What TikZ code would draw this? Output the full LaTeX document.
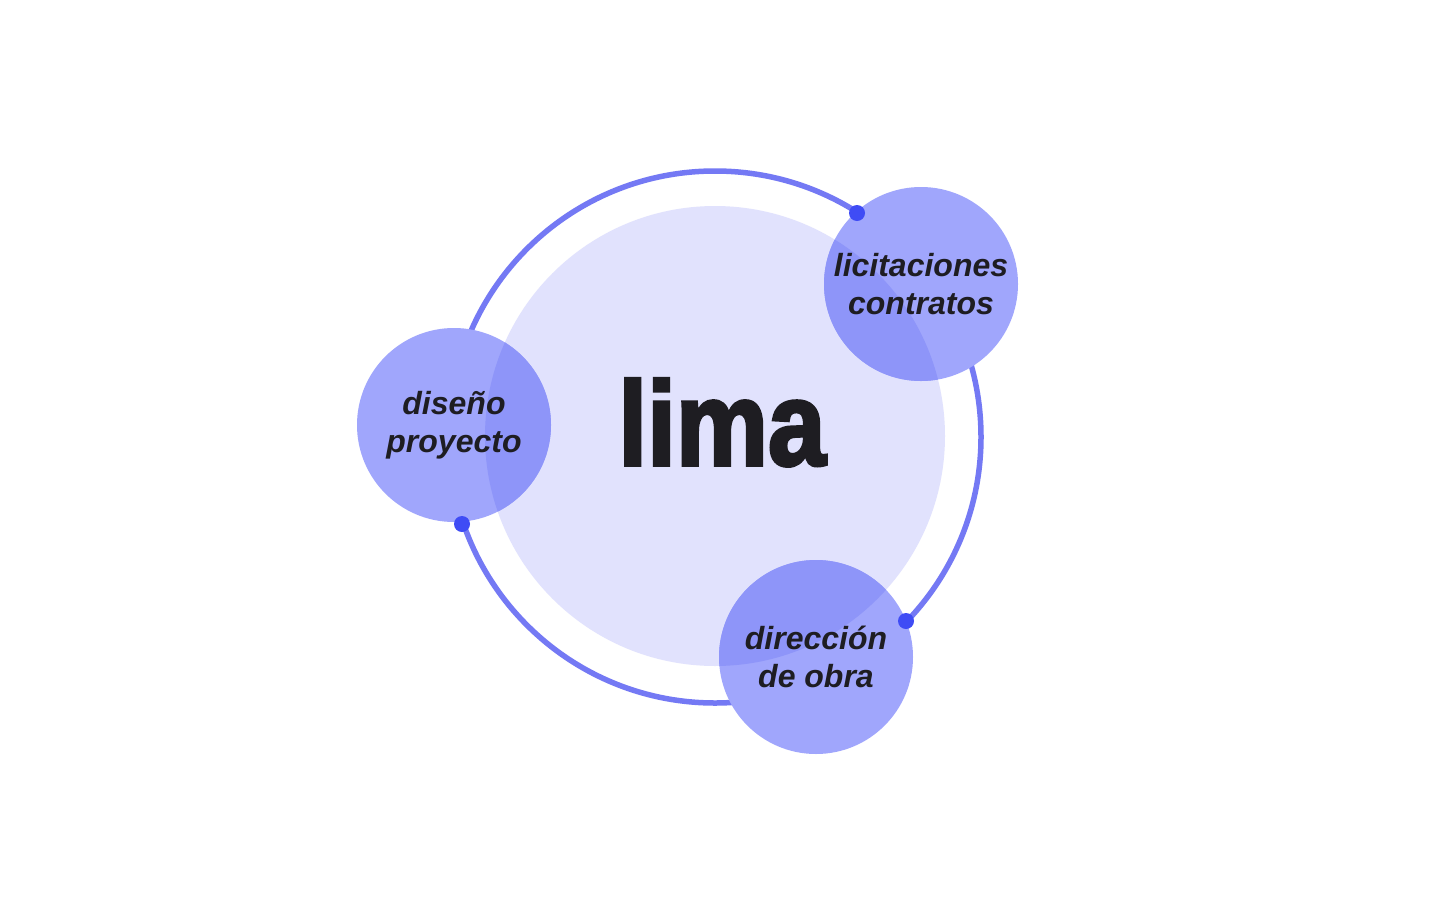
\documentclass[tikz,border=0pt]{standalone}
\usepackage{fontspec}
\setmainfont{Liberation Sans}
\newfontfamily\limafont{Liberation Sans Bold}[FakeBold=3]
\begin{document}
\begin{tikzpicture}[x=1pt,y=-1pt]
\definecolor{ringc}{HTML}{7479F4}
\definecolor{dotc}{HTML}{3F4CF5}
\definecolor{innerc}{HTML}{E1E2FD}
\definecolor{bubblec}{HTML}{A0A6FC}
\definecolor{overlapc}{HTML}{8E95F9}
\definecolor{textc}{HTML}{1E1D22}
\tikzset{
  bubble/.style={circle, minimum size=194pt, inner sep=0pt, fill=bubblec,
    text=textc, align=center,
    font=\fontsize{32}{38}\selectfont\bfseries\itshape,
    path picture={\fill[overlapc] (ic) circle[radius=230pt];}},
  ringdot/.style={circle, fill=dotc, minimum size=16pt, inner sep=0pt}
}
\useasboundingbox (0,0) rectangle (1440,900);
\fill[white] (0,0) rectangle (1440,900);
\coordinate (rc) at (715,437);
\coordinate (ic) at (715,436);
\draw[ringc, line width=5.5pt] (rc) circle[radius=266pt];
\fill[innerc] (ic) circle[radius=230pt];
\node[anchor=base, text=textc, inner sep=0pt] (lima) at (722,465)
  {\fontsize{119}{119}\limafont\selectfont\scalebox{0.87}[1]{lima}};
\node[bubble] (lic) at (921,284) {licitaciones\\contratos};
\node[bubble] (dis) at (454,425) {diseño\\proyecto};
\node[bubble] (dir) at (816,657) {dirección\\de obra};
\node[ringdot] (d1) at (857,213) {};
\node[ringdot] (d2) at (462,524) {};
\node[ringdot] (d3) at (906,621) {};
\end{tikzpicture}
\end{document}
